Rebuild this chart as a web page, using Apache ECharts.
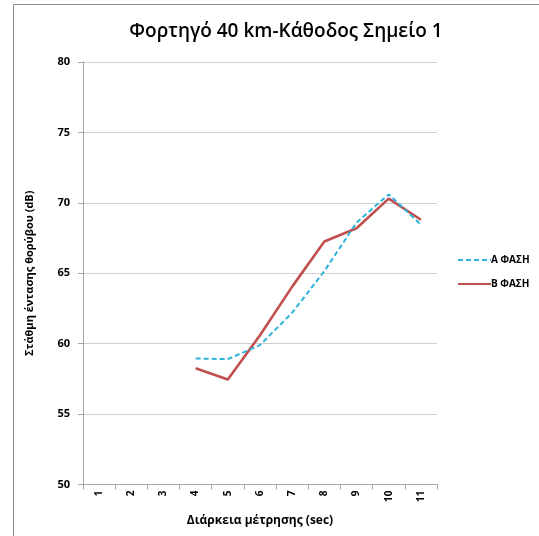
<!DOCTYPE html>
<html>
<head>
<meta charset="utf-8">
<script src="https://cdn.jsdelivr.net/npm/echarts@6/dist/echarts.min.js"></script>
<style>
  html, body { margin: 0; padding: 0; background: #ffffff; }
  #chart { width: 539px; height: 536px; }
</style>
</head>
<body>
<div id="chart"></div>
<script>
// Measurement seconds along the x axis
const categories = ['1', '2', '3', '4', '5', '6', '7', '8', '9', '10', '11'];
// Noise level (dB) per phase; no readings for the first three seconds
const phaseA = [null, null, null, 58.95, 58.9, 59.9, 62.2, 65.15, 68.6, 70.6, 68.45];
const phaseB = [null, null, null, 58.25, 57.45, 60.6, 64.05, 67.25, 68.2, 70.3, 68.8];
const seriesNames = ['Α ΦΑΣΗ', 'Β ΦΑΣΗ'];
const titleText = 'Φορτηγό 40 km-Κάθοδος Σημείο 1';
const xTitle = 'Διάρκεια μέτρησης (sec)';
const yTitle = 'Στάθμη έντασης θορύβου (dB)';

const FONT = '"Open Sans", "Noto Sans", sans-serif';
const chart = echarts.init(document.getElementById('chart'), null, { renderer: 'canvas' });

chart.setOption({
  animation: false,
  backgroundColor: '#ffffff',
  title: {
    text: titleText,
    left: 281,
    textAlign: 'center',
    top: 17,
    textStyle: { fontFamily: FONT, fontSize: 19, fontWeight: 600, color: '#000000' }
  },
  graphic: [{
    type: 'polyline',
    shape: { points: [[13.5, 536], [13.5, 4.5], [539, 4.5]] },
    style: { stroke: '#8c8c8c', lineWidth: 1, fill: null }
  }],
  legend: {
    orient: 'vertical',
    left: 452,
    top: 250,
    itemGap: 14,
    itemWidth: 33,
    itemHeight: 10,
    data: seriesNames,
    // keep only the line sample in each legend entry
    itemStyle: { opacity: 0, borderWidth: 0 },
    textStyle: { fontFamily: FONT, fontSize: 10, fontWeight: 'bold', color: '#000000', padding: [0, 0, 0, -5] }
  },
  grid: { left: 83, right: 102, top: 62, bottom: 51.5, containLabel: false },
  xAxis: {
    type: 'category',
    data: categories,
    boundaryGap: true,
    name: xTitle,
    nameLocation: 'middle',
    nameGap: 30,
    nameTextStyle: { fontFamily: FONT, fontSize: 12, fontWeight: 'bold', color: '#000000' },
    axisLine: { lineStyle: { color: '#a6a6a6', width: 1 } },
    axisTick: { show: true, length: 5, alignWithLabel: false, lineStyle: { color: '#a6a6a6' } },
    axisLabel: { rotate: 90, fontFamily: FONT, fontSize: 10, fontWeight: 'bold', color: '#000000', margin: 6 },
    splitLine: { show: false }
  },
  yAxis: {
    type: 'value',
    min: 50,
    max: 80,
    interval: 5,
    name: yTitle,
    nameLocation: 'middle',
    nameGap: 48,
    nameRotate: 90,
    nameTextStyle: { fontFamily: FONT, fontSize: 11, fontWeight: 'bold', color: '#000000' },
    axisLine: { show: true, lineStyle: { color: '#a6a6a6', width: 1 } },
    axisTick: { show: true, length: 5, lineStyle: { color: '#a6a6a6' } },
    axisLabel: { fontFamily: FONT, fontSize: 11, fontWeight: 'bold', color: '#000000', margin: 13 },
    splitLine: { show: true, lineStyle: { color: '#d0d0d0', width: 1 } }
  },
  series: [
    {
      name: seriesNames[0],
      type: 'line',
      data: phaseA,
      showSymbol: false,
      symbol: 'none',
      connectNulls: false,
      color: '#2eb2dc',
      lineStyle: { color: '#2eb2dc', width: 2, type: [5, 3] },
      z: 3
    },
    {
      name: seriesNames[1],
      type: 'line',
      data: phaseB,
      showSymbol: false,
      symbol: 'none',
      connectNulls: false,
      color: '#c0504d',
      lineStyle: { color: '#c0504d', width: 2.6 },
      z: 2
    }
  ]
});
</script>
</body>
</html>
